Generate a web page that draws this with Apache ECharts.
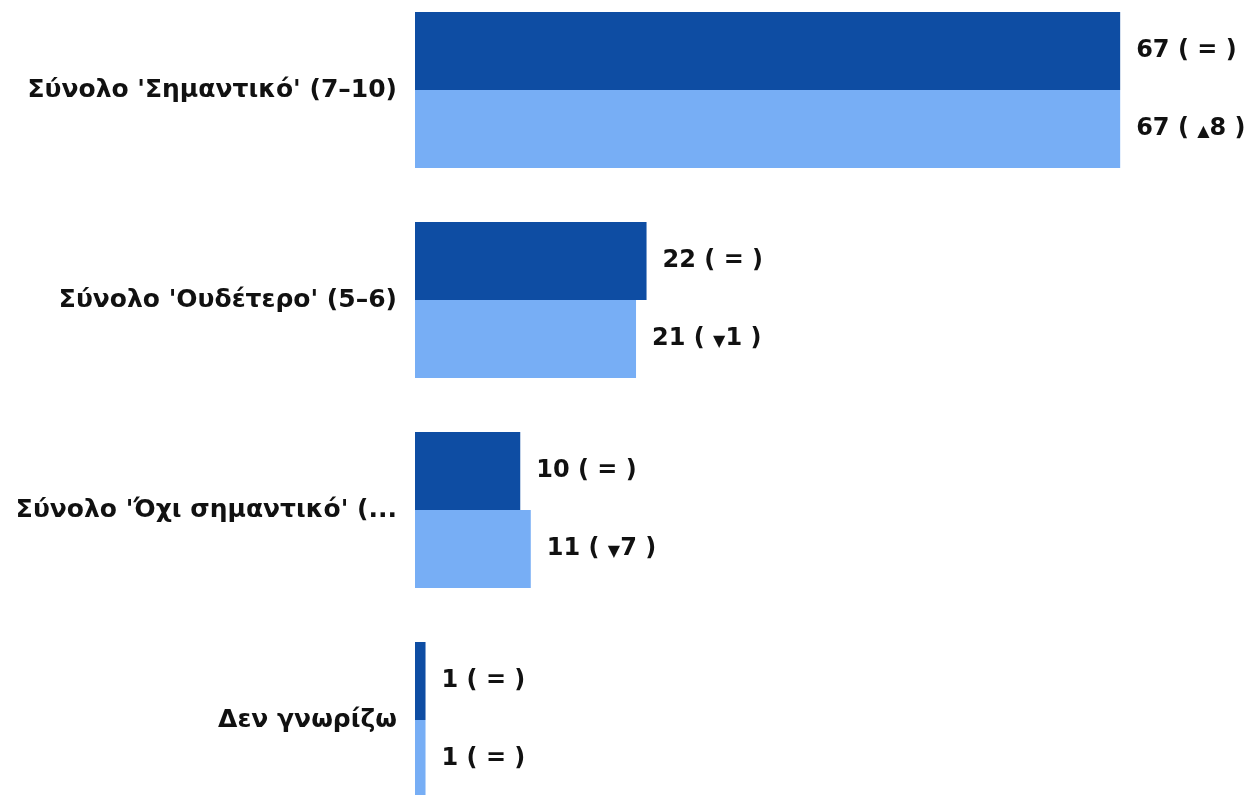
<!DOCTYPE html>
<html>
<head>
<meta charset="utf-8">
<script src="https://cdn.jsdelivr.net/npm/echarts@6/dist/echarts.min.js"></script>
<style>html,body{margin:0;padding:0;background:#fff;overflow:hidden;width:1257px;height:795px;}#c{position:absolute;left:0;top:-15px;width:1257px;height:840px;}</style>
</head>
<body>
<div id="c"></div>
<script>
const categories = ["Σύνολο 'Σημαντικό' (7–10)", "Σύνολο 'Ουδέτερο' (5–6)", "Σύνολο 'Όχι σημαντικό' (...", "Δεν γνωρίζω"];
const seriesA = [67, 22, 10, 1];
const seriesB = [67, 21, 11, 1];
const changeA = ["=", "=", "=", "="];
const changeB = ["▲8", "▼1", "▼7", "="];

const FONT = "DejaVu Sans";
function fmt(changes) {
  return function (p) {
    const c = changes[p.dataIndex];
    if (c === "=") return p.value + " ( = )";
    return p.value + " ( {t|" + c[0] + "}" + c.slice(1) + " )";
  };
}
const labelStyle = (changes) => ({
  show: true, position: 'right', distance: 16,
  formatter: fmt(changes),
  color: '#111', fontFamily: FONT, fontWeight: 'bold', fontSize: 24,
  rich: { t: { fontSize: 16, fontFamily: FONT, color: '#111', verticalAlign: 'bottom', padding: [0, 0, 1, 0] } }
});

const chart = echarts.init(document.getElementById('c'), null, { renderer: 'canvas' });
chart.setOption({
  animation: false,
  grid: { left: 415, right: 0, top: 0, bottom: 0, containLabel: false },
  xAxis: { type: 'value', min: 0, max: 80, show: false },
  yAxis: {
    type: 'category', data: categories, inverse: true,
    axisLine: { show: false }, axisTick: { show: false }, splitLine: { show: false },
    axisLabel: { margin: 18, color: '#111', fontFamily: FONT, fontWeight: 'bold', fontSize: 25 }
  },
  series: [
    { type: 'bar', data: seriesA, barWidth: 78, barGap: '0%', itemStyle: { color: '#0E4DA3' }, label: labelStyle(changeA) },
    { type: 'bar', data: seriesB, barWidth: 78, barGap: '0%', itemStyle: { color: '#77AEF5' }, label: labelStyle(changeB) }
  ]
});
</script>
</body>
</html>
